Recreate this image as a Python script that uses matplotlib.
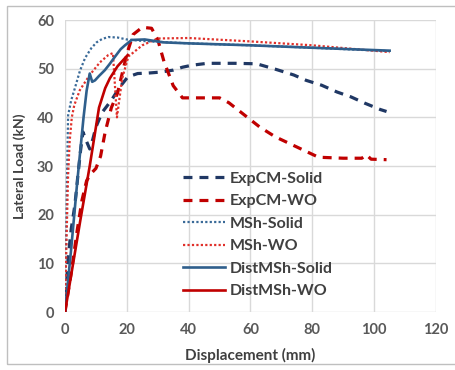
import matplotlib.pyplot as plt
from matplotlib.patches import Rectangle

# ExpCM-Solid (experiment, solid wall)
exp_solid_x = [0, 1, 2, 3.2, 4, 5, 5.8, 7, 8, 9, 10, 12, 15, 17.7, 20.3, 23.5, 27, 31, 35, 38,
               41, 46, 55, 62, 68, 74, 78, 83, 88, 92.5, 97, 102, 104]
exp_solid_y = [0, 11, 17, 22, 27, 33, 37, 35, 33.5, 35.5, 38, 41, 43.5, 46.2, 48.3, 49, 49.1, 49.3,
               49.7, 50.3, 50.7, 51.1, 51.1, 51, 49.9, 48.7, 47.6, 46.6, 45.2, 44.2, 42.9, 41.6, 41.2]

# ExpCM-WO (experiment, wall with opening)
exp_wo_x = [0, 2, 4, 5.5, 7, 8.5, 10, 11.5, 13, 15, 17, 18.5, 20, 22, 25, 28, 30, 32, 35, 38,
            45, 50, 53, 58, 63, 68, 73, 78, 82, 90, 96, 97.5, 99, 104]
exp_wo_y = [0, 8, 17, 23, 27, 28.5, 29.5, 32, 37, 42, 45, 49, 53, 57, 58.5, 58.3, 56, 51.5, 46.5,
            44, 44, 44, 43, 40.5, 38, 36, 34.5, 33, 31.8, 31.6, 31.6, 32.3, 31.4, 31.3]

# MSh-Solid
msh_solid_x = [0, 0.3, 0.6, 1, 2, 3.2, 4.8, 6.5, 8.5, 10.2, 12, 14, 17, 20, 25, 30, 40, 60, 80, 105]
msh_solid_y = [0, 12, 26, 40.4, 43.5, 46, 49.5, 52.2, 54.2, 55.4, 56.1, 56.5, 56.4, 56, 55.7,
               55.5, 55.2, 54.8, 54.3, 53.6]

# MSh-WO
msh_wo_x = [0, 0.5, 1, 1.5, 2.2, 3, 4.8, 8, 11.3, 14, 15.5, 16.8, 18.5, 20.5, 25, 30, 40, 60, 80, 105]
msh_wo_y = [0, 15, 28, 35, 40, 42.5, 45.6, 48.7, 51.3, 52.8, 53.2, 40, 48, 52.5, 54.8, 56.2, 56.3,
            55.6, 54.8, 53.4]

# DistMSh-Solid
dist_solid_x = [0, 2, 4, 6, 7, 8, 8.8, 9.7, 11, 12.9, 14.5, 16.1, 18, 19.4, 21.6, 25.8, 32, 40,
                60, 80, 105]
dist_solid_y = [0, 13, 27, 40, 45.5, 49, 47.3, 47.6, 48.5, 49.7, 51, 52.4, 54, 54.8, 55.9, 56,
                55.4, 55.2, 54.8, 54.3, 53.7]

# DistMSh-WO
dist_wo_x = [0, 5, 8, 10, 11, 13, 14.5, 17, 20.3]
dist_wo_y = [0, 19, 30, 38, 42, 46, 48, 50.5, 52.8]

fig = plt.figure(figsize=(4.55, 3.7), dpi=100)
ax = fig.add_axes([65 / 455, 1 - 312 / 370, (436 - 65) / 455, (312 - 20) / 370])

fig.patches.append(Rectangle((7 / 455, 1 - 364 / 370), 460 / 455, 358 / 370,
                             transform=fig.transFigure, fill=False,
                             edgecolor="#BFBFBF", linewidth=1))

navy = "#203864"
red = "#C00000"
blue = "#3A6A98"
red2 = "#E0302A"

ax.plot(exp_solid_x, exp_solid_y, color=navy, lw=2.3, dashes=(2.8, 2.2), label="ExpCM-Solid")
ax.plot(exp_wo_x, exp_wo_y, color=red, lw=2.3, dashes=(2.8, 2.2), label="ExpCM-WO")
ax.plot(msh_solid_x, msh_solid_y, color=blue, lw=1.6, ls=(0, (1, 1)), label="MSh-Solid")
ax.plot(msh_wo_x, msh_wo_y, color=red2, lw=1.6, ls=(0, (1, 1)), label="MSh-WO")
ax.plot(dist_solid_x, dist_solid_y, color="#2F5F8C", lw=1.9, label="DistMSh-Solid")
ax.plot(dist_wo_x, dist_wo_y, color=red, lw=1.9, label="DistMSh-WO")

ax.set_xlim(0, 120)
ax.set_ylim(0, 60)
ax.set_xticks(range(0, 121, 20))
ax.set_yticks(range(0, 61, 10))
ax.grid(True, color="#D9D9D9", lw=1)
ax.set_axisbelow(True)
for s in ax.spines.values():
    s.set_visible(False)
ax.tick_params(length=0, labelsize=10.5, labelcolor="#595959", pad=8)
for lab in ax.get_xticklabels() + ax.get_yticklabels():
    lab.set_fontweight("bold")
    lab.set_family("Lato")

ax.set_xlabel("Displacement (mm)", fontsize=11, fontweight="bold", color="#404040",
              family="Lato", labelpad=8)
ax.set_ylabel("Lateral Load (kN)", fontsize=10, fontweight="bold", color="#404040",
              family="Lato", labelpad=8)

leg = ax.legend(loc="upper left", bbox_to_anchor=(0.28, 0.53), frameon=False,
                prop={"family": "Lato", "weight": "bold", "size": 11.5},
                handlelength=2.6, handletextpad=0.3, labelspacing=0.52)
for t in leg.get_texts():
    t.set_color("#404040")

fig.savefig("out.png", dpi=100)
